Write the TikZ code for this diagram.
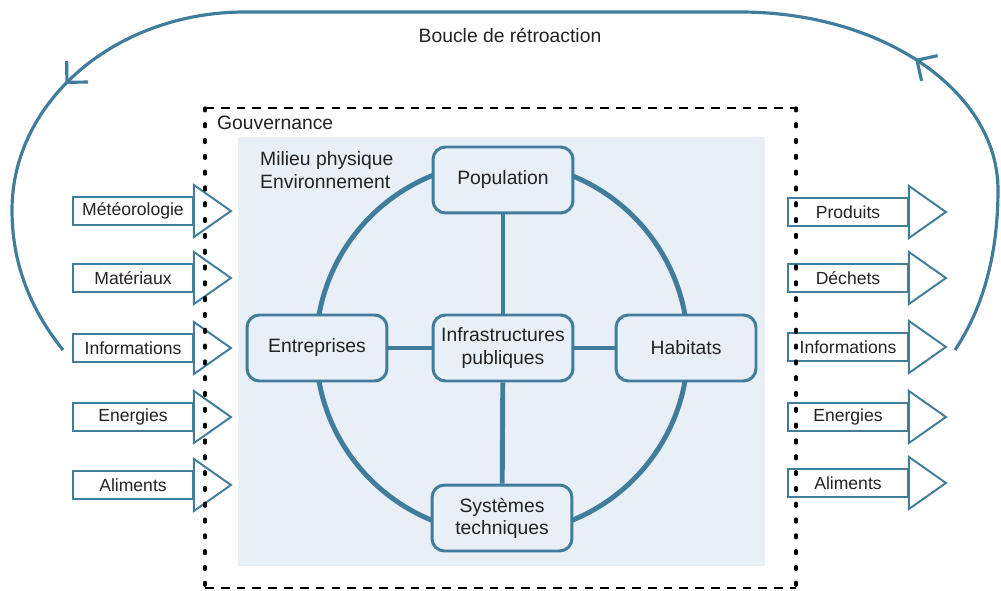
\documentclass[tikz,border=0pt]{standalone}
\usepackage{fontspec}
\setmainfont{Liberation Sans}
\usetikzlibrary{arrows.meta,decorations.markings}
\definecolor{accent}{RGB}{64,124,156}
\definecolor{milieu}{RGB}{233,239,247}
\definecolor{ink}{RGB}{34,34,34}
\begin{document}
\begin{tikzpicture}[x=0.02cm, y=-0.02cm, text=ink,
    pole/.style={draw=accent, line width=1.7pt, fill=milieu, rounded corners=0.25cm,
      minimum width=2.8cm, minimum height=1.32cm, inner sep=2pt, align=center,
      font=\fontsize{11}{12.6}\selectfont},
    flowbox/.style={draw=accent, line width=1.1pt, fill=white, minimum width=2.4cm,
      minimum height=0.56cm, inner sep=0pt, font=\fontsize{10}{12}\selectfont},
    flowhead/.style={draw=accent, line width=1.1pt, fill=white},
    link/.style={draw=accent, line width=2.8pt},
    govh/.style={line width=1.7pt, dash pattern=on 5pt off 4pt},
    govv/.style={line width=1.9pt, line cap=round, dash pattern=on 1.6pt off 7.4pt},
    feedback/.style={draw=accent, line width=1.8pt, postaction={decorate},
      decoration={markings,
        mark=at position 0.22 with {\arrow{Straight Barb[length=0.3cm, width=0.6cm]}},
        mark=at position 0.805 with {\arrow{Straight Barb[length=0.3cm, width=0.6cm]}}}},
    caption/.style={font=\fontsize{11}{13.5}\selectfont}]
  \useasboundingbox (0,0) rectangle (1001,591);
  % milieu physique
  \fill[milieu] (238,137) rectangle (765,566);
  \node[caption, anchor=west, align=left] (milieu) at (254,170) {Milieu physique\\Environnement};
  % cercle des acteurs
  \draw[link] (502,348) circle (3.72cm);
  \node[pole] (infra) at (503,348) {Infrastructures\\publiques};
  \node[pole] (pop) at (503,180) {Population};
  \node[pole] (entr) at (317,348) {Entreprises};
  \node[pole] (hab) at (686,348) {Habitats};
  \node[pole] (syst) at (502,518) {Systèmes\\techniques};
  \foreach \n in {pop,entr,hab,syst}
    \draw[link] (infra) -- (\n);
  % entrees
  \foreach \y/\txt [count=\i] in {211/Météorologie, 278/Matériaux, 348/Informations,
      417/Energies, 485/Aliments} {
    \node[flowbox] (in\i) at (133,\y) {\txt};
    \draw[flowhead] ([yshift=0.52cm]in\i.east) -- ([xshift=0.74cm]in\i.east)
      -- ([yshift=-0.52cm]in\i.east) -- cycle;
  }
  % sorties
  \foreach \y/\txt [count=\i] in {212/Produits, 278/Déchets, 347/Informations,
      417/Energies, 483/Aliments} {
    \node[flowbox] (out\i) at (848,\y) {\txt};
    \draw[flowhead] ([yshift=0.52cm]out\i.east) -- ([xshift=0.74cm]out\i.east)
      -- ([yshift=-0.52cm]out\i.east) -- cycle;
  }
  % gouvernance
  \draw[govh] (205,108) -- (796,108);
  \draw[govh] (205,588) -- (796,588);
  \draw[govv] (205,108) -- (205,588);
  \draw[govv] (796,108) -- (796,588);
  \node[caption, anchor=west] (gouv) at (211,123) {Gouvernance};
  % boucle de retroaction
  \coordinate (loopstart) at (955,350);
  \coordinate (loopend) at (63,350);
  \draw[feedback] (loopstart) .. controls (985,305) and (998,250) .. (998,190)
    .. controls (998,92) and (884,12) .. (740,12) -- (245,12)
    .. controls (116,12) and (12,101) .. (12,210)
    .. controls (12,270) and (35,315) .. (loopend);
  \node[caption] (boucle) at (510,35) {Boucle de rétroaction};
\end{tikzpicture}
\end{document}
